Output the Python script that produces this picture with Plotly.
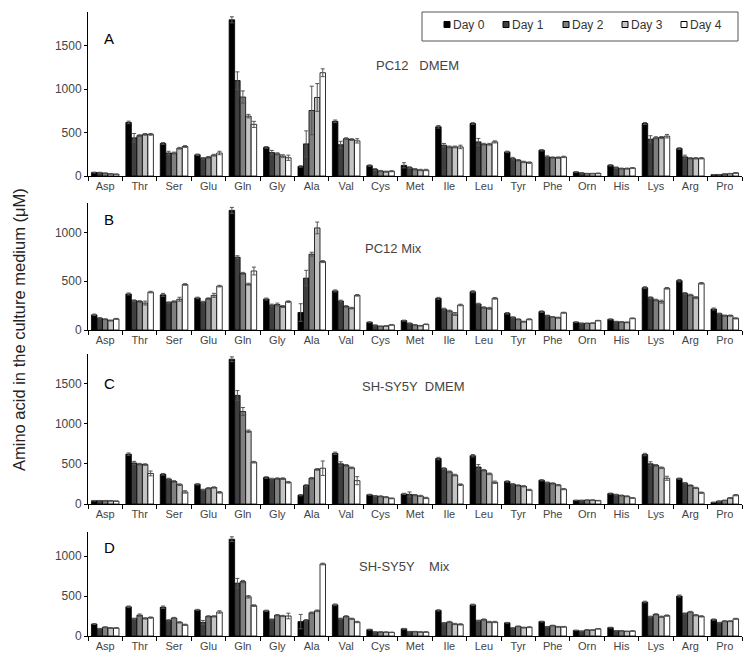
import plotly.graph_objects as go

categories = ["Asp", "Thr", "Ser", "Glu", "Gln", "Gly", "Ala", "Val", "Cys", "Met",
              "Ile", "Leu", "Tyr", "Phe", "Orn", "His", "Lys", "Arg", "Pro"]
days = ["Day 0", "Day 1", "Day 2", "Day 3", "Day 4"]

# Panel A: PC12 DMEM
a_day0 = [40, 617, 375, 245, 1800, 330, 110, 630, 120, 123, 567, 605, 278, 297, 46, 123, 605, 316, 15]
a_day1 = [38, 440, 265, 200, 1100, 270, 370, 360, 75, 96, 355, 393, 200, 220, 35, 96, 424, 220, 15]
a_day2 = [32, 465, 265, 215, 910, 255, 755, 430, 58, 77, 335, 366, 181, 212, 28, 85, 440, 204, 23]
a_day3 = [25, 480, 320, 240, 690, 230, 905, 420, 50, 69, 335, 366, 162, 212, 28, 85, 443, 204, 27]
a_day4 = [20, 480, 340, 265, 595, 210, 1190, 405, 55, 69, 335, 393, 154, 220, 30, 92, 459, 204, 35]
a_err0 = [5, 15, 10, 8, 35, 10, 8, 15, 8, 30, 15, 10, 8, 8, 5, 8, 12, 10, 3]
a_err1 = [5, 50, 20, 12, 100, 25, 150, 40, 10, 10, 20, 40, 15, 12, 5, 8, 40, 20, 3]
a_err2 = [4, 10, 10, 10, 70, 12, 280, 10, 6, 8, 10, 10, 8, 8, 3, 6, 12, 8, 3]
a_err3 = [4, 10, 10, 10, 20, 15, 160, 10, 6, 8, 10, 10, 8, 8, 3, 6, 12, 8, 3]
a_err4 = [3, 10, 10, 20, 35, 30, 45, 25, 6, 8, 20, 12, 8, 8, 4, 6, 20, 8, 5]

# Panel B: PC12 Mix
b_day0 = [155, 369, 360, 328, 1225, 317, 179, 400, 79, 96, 324, 392, 171, 188, 80, 109, 433, 505, 215]
b_day1 = [121, 300, 280, 286, 745, 255, 531, 297, 48, 68, 215, 266, 130, 147, 68, 85, 331, 375, 167]
b_day2 = [110, 292, 290, 321, 580, 260, 776, 241, 38, 51, 195, 229, 109, 133, 68, 82, 307, 358, 147]
b_day3 = [97, 276, 315, 355, 469, 240, 1045, 224, 41, 44, 164, 222, 85, 126, 70, 78, 290, 331, 147]
b_day4 = [114, 388, 466, 449, 604, 290, 700, 355, 52, 58, 256, 324, 109, 177, 96, 119, 427, 478, 119]
b_err0 = [8, 10, 15, 8, 30, 10, 90, 10, 5, 5, 10, 10, 8, 8, 4, 5, 10, 12, 10]
b_err1 = [6, 8, 8, 8, 15, 10, 80, 8, 4, 4, 8, 8, 5, 5, 4, 4, 8, 8, 6]
b_err2 = [5, 8, 8, 8, 10, 15, 20, 8, 3, 3, 8, 8, 5, 5, 3, 4, 8, 8, 6]
b_err3 = [5, 20, 20, 20, 10, 10, 60, 8, 3, 3, 15, 10, 5, 5, 3, 4, 15, 10, 6]
b_err4 = [5, 8, 8, 8, 40, 8, 10, 8, 3, 3, 8, 8, 5, 5, 3, 4, 8, 8, 6]

# Panel C: SH-SY5Y DMEM
c_day0 = [40, 620, 370, 245, 1800, 330, 110, 630, 115, 125, 565, 600, 280, 295, 45, 130, 615, 315, 20]
c_day1 = [40, 510, 310, 175, 1350, 310, 230, 500, 100, 120, 440, 460, 245, 265, 45, 115, 500, 260, 35]
c_day2 = [40, 495, 280, 195, 1150, 315, 320, 480, 95, 110, 400, 420, 230, 255, 48, 105, 480, 230, 45]
c_day3 = [40, 490, 240, 205, 905, 315, 430, 450, 85, 100, 360, 375, 220, 235, 48, 95, 450, 200, 75]
c_day4 = [35, 380, 150, 145, 520, 270, 445, 290, 70, 75, 240, 270, 175, 185, 42, 75, 320, 140, 110]
c_err0 = [4, 15, 10, 8, 30, 10, 8, 15, 6, 8, 15, 15, 8, 8, 3, 6, 15, 8, 3]
c_err1 = [4, 20, 10, 8, 60, 10, 10, 25, 6, 30, 10, 30, 8, 8, 3, 6, 25, 8, 3]
c_err2 = [4, 10, 10, 8, 50, 10, 10, 10, 6, 8, 10, 10, 8, 8, 3, 6, 10, 8, 3]
c_err3 = [4, 10, 10, 8, 15, 10, 10, 10, 6, 8, 10, 10, 8, 8, 3, 6, 10, 8, 5]
c_err4 = [3, 30, 15, 10, 10, 10, 90, 50, 5, 8, 10, 15, 8, 8, 3, 5, 25, 8, 8]

# Panel D: SH-SY5Y Mix
d_day0 = [150, 365, 360, 325, 1210, 315, 180, 390, 80, 90, 320, 390, 165, 180, 70, 105, 425, 500, 205]
d_day1 = [90, 215, 195, 170, 660, 205, 195, 215, 50, 55, 160, 190, 100, 115, 60, 65, 240, 280, 165]
d_day2 = [110, 260, 225, 245, 680, 260, 290, 245, 50, 55, 175, 205, 120, 130, 75, 65, 270, 300, 185]
d_day3 = [100, 220, 170, 245, 490, 250, 315, 215, 48, 50, 150, 175, 105, 115, 75, 58, 240, 260, 185]
d_day4 = [100, 230, 140, 300, 380, 250, 900, 175, 45, 50, 145, 175, 110, 115, 90, 62, 255, 245, 215]
d_err0 = [5, 10, 15, 8, 30, 8, 90, 10, 5, 5, 8, 8, 5, 5, 3, 5, 10, 12, 8]
d_err1 = [5, 8, 8, 25, 60, 8, 10, 8, 3, 3, 8, 8, 5, 5, 3, 3, 8, 8, 6]
d_err2 = [5, 15, 8, 8, 15, 8, 10, 8, 3, 3, 8, 8, 5, 5, 3, 3, 8, 8, 6]
d_err3 = [5, 8, 8, 8, 15, 8, 10, 8, 3, 3, 8, 8, 5, 5, 3, 3, 8, 8, 6]
d_err4 = [5, 8, 8, 15, 10, 35, 10, 8, 3, 3, 8, 8, 5, 5, 3, 3, 8, 8, 6]

NB = "\u00a0"
panels = [
    ("A", "PC12" + NB * 3 + "DMEM", [a_day0, a_day1, a_day2, a_day3, a_day4], [a_err0, a_err1, a_err2, a_err3, a_err4]),
    ("B", "PC12 Mix", [b_day0, b_day1, b_day2, b_day3, b_day4], [b_err0, b_err1, b_err2, b_err3, b_err4]),
    ("C", "SH-SY5Y" + NB * 2 + "DMEM", [c_day0, c_day1, c_day2, c_day3, c_day4], [c_err0, c_err1, c_err2, c_err3, c_err4]),
    ("D", "SH-SY5Y" + NB * 4 + "Mix", [d_day0, d_day1, d_day2, d_day3, d_day4], [d_err0, d_err1, d_err2, d_err3, d_err4]),
]
y_ranges = [[0, 1890], [0, 1300], [0, 1865], [0, 1300]]
y_ticks = [[0, 500, 1000, 1500], [0, 500, 1000], [0, 500, 1000, 1500], [0, 500, 1000]]

# Layout geometry: page has an 8px body margin, so the figure is 8px smaller
OFF = 8
W, H = 756 - OFF, 668 - OFF
ML, MR, MT, MB = 88 - OFF, 14, 12 - OFF, 32
PW, PH = W - ML - MR, H - MT - MB


def px_x(px):
    return (px - OFF - ML) / PW


def px_y(py):
    return (H - MB - (py - OFF)) / PH


panel_px = [(12, 176), (203, 330), (354, 504), (532, 636)]
domains = [[px_y(b), px_y(t)] for t, b in panel_px]
letter_top_px = [30, 211, 375, 539]
title_px = [(461, 65), (424, 248), (467, 386), (452, 566)]  # right edge, middle

colors = ["#000000", "#3f3f3f", "#7f7f7f", "#c4c4c4", "#ffffff"]
font_family = "Liberation Sans, Arial, sans-serif"

fig = go.Figure()
for p, (letter, title, series, errs) in enumerate(panels):
    ax = "" if p == 0 else str(p + 1)
    for d in range(5):
        fig.add_trace(go.Bar(
            x=categories, y=series[d], name=days[d],
            marker=dict(color=colors[d], line=dict(color="#000000", width=0.8)),
            error_y=dict(type="data", array=errs[d], visible=True,
                         color="#555555", thickness=1, width=2),
            xaxis="x" + ax, yaxis="y" + ax, showlegend=False,
        ))

layout = dict(
    width=W, height=H,
    margin=dict(l=ML, r=MR, t=MT, b=MB),
    plot_bgcolor="white", paper_bgcolor="white",
    barmode="group", bargap=0.2, bargroupgap=0.0,
    font=dict(family=font_family, color="#444444", size=11),
    showlegend=False,
)
annotations = []
shapes = []
for p, (letter, title, series, errs) in enumerate(panels):
    ax = "" if p == 0 else str(p + 1)
    layout["xaxis" + ax] = dict(
        domain=[0, 1], anchor="y" + ax, type="category", automargin=False,
        showline=True, linecolor="#000000", linewidth=1, tickangle=0,
        ticks="outside", tickson="boundaries", ticklen=4, tickcolor="#000000",
        showgrid=False, tickfont=dict(size=11, color="#444444"),
    )
    layout["yaxis" + ax] = dict(
        domain=domains[p], anchor="x" + ax, range=y_ranges[p], automargin=False,
        tickvals=y_ticks[p], showline=True, linecolor="#000000", linewidth=1,
        ticks="outside", ticklen=3, tickcolor="#000000", showgrid=False,
        zeroline=False, tickfont=dict(size=12, color="#444444"),
    )
    annotations.append(dict(
        text=letter, xref="paper", yref="paper", x=px_x(102), y=px_y(letter_top_px[p] - 2),
        xanchor="left", yanchor="top", showarrow=False,
        font=dict(size=15, color="#000000", family=font_family)))
    annotations.append(dict(
        text=title, xref="paper", yref="paper", x=px_x(title_px[p][0]), y=px_y(title_px[p][1]),
        xanchor="right", yanchor="middle", showarrow=False,
        font=dict(size=13, color="#444444", family=font_family)))

annotations.append(dict(
    text="Amino acid in the culture medium (μM)", xref="paper", yref="paper",
    x=px_x(19), y=px_y(330), xanchor="center", yanchor="middle", textangle=-90,
    showarrow=False, font=dict(size=16.5, color="#222222", family=font_family)))

# Legend box (manual)
shapes.append(dict(type="rect", xref="paper", yref="paper",
                   x0=px_x(422), x1=px_x(738), y0=px_y(41), y1=px_y(12),
                   line=dict(color="#555555", width=1), fillcolor="white", layer="above"))
legend_sq_px = [444, 503, 563, 622, 681]
for d in range(5):
    sx = legend_sq_px[d]
    shapes.append(dict(type="rect", xref="paper", yref="paper",
                       x0=px_x(sx), x1=px_x(sx + 6), y0=px_y(27.5), y1=px_y(21.5),
                       line=dict(color="#000000", width=1), fillcolor=colors[d], layer="above"))
    annotations.append(dict(
        text=days[d], xref="paper", yref="paper", x=px_x(sx + 7), y=px_y(24.5),
        xanchor="left", yanchor="middle", showarrow=False,
        font=dict(size=12, color="#333333", family=font_family)))

layout["annotations"] = annotations
layout["shapes"] = shapes

fig.update_layout(**layout)
fig.write_html("out.html")
